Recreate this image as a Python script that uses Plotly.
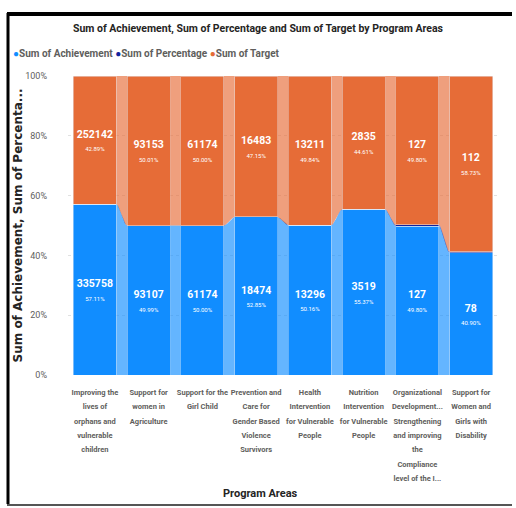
import plotly.graph_objects as go

categories = [
    "Improving the<br>lives of<br>orphans and<br>vulnerable<br>children",
    "Support for<br>women in<br>Agriculture",
    "Support for the<br>Girl Child",
    "Prevention and<br>Care for<br>Gender Based<br>Violence<br>Survivors",
    "Health<br>Intervention<br>for Vulnerable<br>People",
    "Nutrition<br>Intervention<br>for Vulnerable<br>People",
    "Organizational<br>Development...<br>Strengthening<br>and improving<br>the<br>Compliance<br>level of the I...",
    "Support for<br>Women and<br>Girls with<br>Disability",
]
achievement = [335758, 93107, 61174, 18474, 13296, 3519, 127, 78]
percentage = [1.3316, 0.9995, 1.0, 1.1208, 1.0064, 1.2413, 1.0, 0.6964]
target = [252142, 93153, 61174, 16483, 13211, 2835, 127, 112]
y_ticks = [0, 20, 40, 60, 80, 100]
y_tick_labels = ["0%", "20%", "40%", "60%", "80%", "100%"]
series_names = ["Sum of Achievement", "Sum of Percentage", "Sum of Target"]

C_ACH = "#118DFF"
C_PCT = "#12239E"
C_TGT = "#E66C37"
FONT = "Roboto, Liberation Sans, sans-serif"

W, H = 516, 508
ML, MR, MT, MB = 68, 18, 76, 133
PW, PH = W - ML - MR, H - MT - MB

n = len(categories)
xs = list(range(n))
totals = [a + p + t for a, p, t in zip(achievement, percentage, target)]
pa = [100 * a / s for a, s in zip(achievement, totals)]
pp = [100 * p / s for p, s in zip(percentage, totals)]
pt = [100 * t / s for t, s in zip(target, totals)]


def seg_text(vals, pcts):
    return [f"<b>{v}</b><br><span style='font-size:6px'>{q:.2f}%</span>" for v, q in zip(vals, pcts)]


def small_lines(label, size=8):
    return "<br>".join(f"<span style='font-size:{size}px'><b>{ln}</b></span>" for ln in label.split("<br>"))


fig = go.Figure()
fig.add_bar(x=xs, y=achievement, name=series_names[0], marker_color=C_ACH,
            text=seg_text(achievement, pa), textposition="inside", insidetextanchor="middle",
            textangle=0, textfont=dict(color="white", size=10.5, family=FONT),
            showlegend=False, hoverinfo="skip")
fig.add_bar(x=xs, y=percentage, name=series_names[1], marker_color=C_PCT,
            textposition="none", showlegend=False, hoverinfo="skip")
fig.add_bar(x=xs, y=target, name=series_names[2], marker_color=C_TGT,
            text=seg_text(target, pt), textposition="inside", insidetextanchor="middle",
            textangle=0, textfont=dict(color="white", size=10.5, family=FONT),
            showlegend=False, hoverinfo="skip")

# ribbons between adjacent columns
half = 0.4
steps = 24


def smooth(t):
    return t * t * (3 - 2 * t)


def ribbon(lo, hi, color):
    for i in range(n - 1):
        x0, x1 = xs[i] + half, xs[i + 1] - half
        tx, ty, bx, by = [], [], [], []
        for k in range(steps + 1):
            t = k / steps
            s = smooth(t)
            xx = x0 + (x1 - x0) * t
            tx.append(xx)
            ty.append(hi[i] + (hi[i + 1] - hi[i]) * s)
            bx.append(xx)
            by.append(lo[i] + (lo[i + 1] - lo[i]) * s)
        fig.add_scatter(x=tx + bx[::-1], y=ty + by[::-1], fill="toself", fillcolor=color,
                        line=dict(width=0), mode="lines", showlegend=False, hoverinfo="skip",
                        opacity=0.65)


zeros = [0] * n
ach_top = pa
pct_top = [a + p for a, p in zip(pa, pp)]
hundred = [100] * n
ribbon(zeros, ach_top, C_ACH)
ribbon(ach_top, pct_top, C_PCT)
ribbon(pct_top, hundred, C_TGT)


def px_x(p):
    return (p - ML) / PW


def px_y(p):
    return 1 - (p - MT) / PH


legend_text = "".join(
    f"<span style='color:{c}'>●</span><b>{nm}</b> "
    for nm, c in zip(series_names, [C_ACH, C_PCT, C_TGT])
)

annotations = [
    dict(text=legend_text, xref="paper", yref="paper", x=px_x(11), y=px_y(53),
         xanchor="left", yanchor="middle", showarrow=False,
         font=dict(size=10, color="#605E5C", family=FONT)),
    dict(text="<b>Program Areas</b>", xref="paper", yref="paper", x=px_x(260), y=px_y(493),
         xanchor="center", yanchor="middle", showarrow=False,
         font=dict(size=11, color="#252423", family=FONT)),
]

shapes = [
    dict(type="line", xref="paper", yref="paper", x0=px_x(7), x1=px_x(512), y0=px_y(14), y1=px_y(14),
         line=dict(color="black", width=4)),
    dict(type="line", xref="paper", yref="paper", x0=px_x(8), x1=px_x(8), y0=px_y(13), y1=px_y(504),
         line=dict(color="black", width=3)),
    dict(type="line", xref="paper", yref="paper", x0=px_x(7), x1=px_x(512), y0=px_y(505), y1=px_y(505),
         line=dict(color="#555555", width=2)),
]

fig.update_layout(
    width=W, height=H,
    margin=dict(l=ML, r=MR, t=MT, b=MB),
    paper_bgcolor="white", plot_bgcolor="white",
    barmode="stack", barnorm="percent", bargap=0.2,
    showlegend=False,
    font=dict(family=FONT, color="#605E5C"),
    title=dict(text="<b>Sum of Achievement, Sum of Percentage and Sum of Target by Program Areas</b>",
               x=0.5, xref="container", xanchor="center", y=1 - 28 / H, yanchor="middle",
               font=dict(size=10.5, color="#252423", family=FONT)),
    annotations=annotations,
    shapes=shapes,
    xaxis=dict(tickmode="array", tickvals=xs, ticktext=[small_lines(c, 7.5) for c in categories],
               range=[-0.5, n - 0.5],
               tickangle=0, tickfont=dict(size=11, color="#605E5C", family=FONT),
               showgrid=False, zeroline=False, showline=False, ticks="", ticklabelstandoff=8),
    yaxis=dict(range=[0, 100], tickvals=y_ticks, ticktext=y_tick_labels,
               tickfont=dict(size=9, color="#605E5C", family=FONT),
               showgrid=True, gridcolor="#E1E1E1", griddash="dot", gridwidth=1,
               zeroline=False, showline=False, ticks="", ticklabelstandoff=20,
               title=dict(text="<b>Sum of Achievement, Sum of Percenta...</b>",
                          font=dict(size=12, color="#252423", family="DejaVu Sans"), standoff=0)),
)

fig.write_html("out.html")
